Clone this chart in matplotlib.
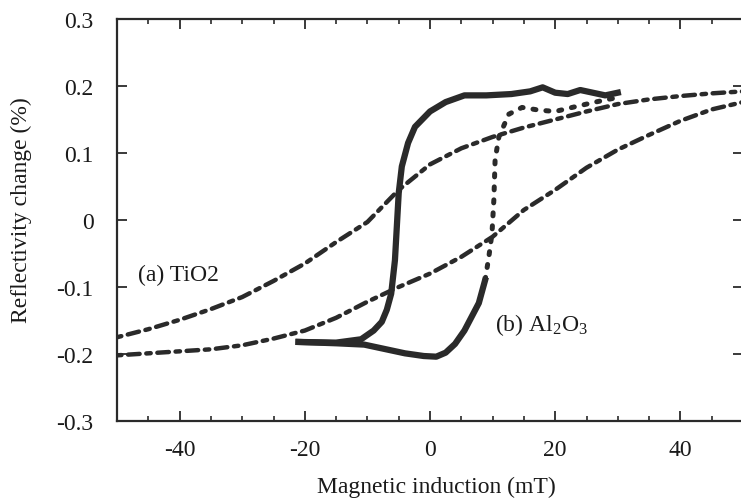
import matplotlib
matplotlib.use("Agg")
import matplotlib.pyplot as plt
from matplotlib.ticker import MultipleLocator

plt.rcParams["font.family"] = ["Liberation Serif", "DejaVu Serif"]
plt.rcParams["font.size"] = 17
plt.rcParams["axes.unicode_minus"] = False
plt.rcParams["mathtext.fontset"] = "custom"
plt.rcParams["mathtext.rm"] = "Liberation Serif"
plt.rcParams["mathtext.default"] = "rm"

INK = "#2a2a2a"

# (a) TiO2 loop: upper branch (field sweeping down) and lower branch (sweeping up)
tio2_field = [-50, -45, -40, -35, -30, -25, -20, -15, -10, -5, 0,
              5, 10, 15, 20, 25, 30, 35, 40, 45, 50]
tio2_down = [-0.175, -0.163, -0.149, -0.133, -0.115, -0.091, -0.065, -0.033, -0.003, 0.045, 0.083,
             0.107, 0.124, 0.138, 0.150, 0.162, 0.173, 0.180, 0.185, 0.189, 0.192]
tio2_up = [-0.202, -0.199, -0.196, -0.193, -0.187, -0.177, -0.165, -0.146, -0.122, -0.100, -0.080,
           -0.055, -0.025, 0.015, 0.045, 0.078, 0.105, 0.127, 0.148, 0.165, 0.176]

# (b) Al2O3 loop
al_down_field = [30, 28, 26, 24, 22, 20, 18, 16, 13, 9, 5.5, 2.5, 0, -2.4, -3.5, -4.5,
                 -5.0, -5.3, -5.6, -6.2, -6.9, -7.7, -9, -11, -15, -21]
al_down = [0.190, 0.186, 0.190, 0.194, 0.188, 0.190, 0.198, 0.192, 0.188, 0.186, 0.186, 0.176,
           0.162, 0.139, 0.115, 0.080, 0.040, -0.010, -0.060, -0.110, -0.134, -0.152, -0.165,
           -0.178, -0.183, -0.182]

al_up_field = [-21, -15, -10.5, -7, -4, -1, 1, 2.5, 4, 5.5, 7.8, 8.8]
al_up = [-0.182, -0.184, -0.186, -0.193, -0.199, -0.203, -0.204, -0.198, -0.185, -0.165, -0.124, -0.090]

al_jump_field = [8.8, 9.4, 9.9, 10.2, 10.4, 11.0, 12.6, 14.7, 17.4, 20, 22.7, 26.4, 30]
al_jump = [-0.090, -0.055, -0.020, 0.030, 0.090, 0.124, 0.158, 0.168, 0.164, 0.162, 0.168, 0.176, 0.183]

x_ticks = [-40, -20, 0, 20, 40]
y_ticks = [-0.3, -0.2, -0.1, 0, 0.1, 0.2, 0.3]
y_ticklabels = ["-0.3", "-0.2", "-0.1", "0", "0.1", "0.2", "0.3"]

fig = plt.figure(figsize=(7.41, 5.02), dpi=100)
ax = fig.add_axes([117 / 741, 80 / 502, 626 / 741, 402 / 502])

dot_style = dict(color=INK, linewidth=3.2, linestyle=(0, (1.0, 1.5, 2.6, 1.5)),
                 dash_capstyle="round")
ax.plot(tio2_field, tio2_down, **dot_style)
ax.plot(tio2_field, tio2_up, **dot_style)

ax.plot(al_down_field, al_down, color=INK, linewidth=4.5, solid_joinstyle="round")
ax.plot(al_up_field, al_up, color=INK, linewidth=4.5, solid_joinstyle="round")
ax.plot(al_jump_field, al_jump, color=INK, linewidth=3.6,
        linestyle=(0, (0.6, 2.0)), dash_capstyle="round")

ax.text(-46.6, -0.082, "(a) TiO2", ha="left", va="center", color="#1a1a1a")
ax.text(10.4, -0.155, "(b) Al$_2$O$_3$", ha="left", va="center", color="#1a1a1a")

ax.set_xlim(-50, 50)
ax.set_ylim(-0.3, 0.3)
ax.set_xticks(x_ticks)
ax.set_xticklabels([str(v) for v in x_ticks])
ax.xaxis.set_minor_locator(MultipleLocator(5))
ax.set_yticks(y_ticks)
ax.set_yticklabels(y_ticklabels)

for side in ax.spines.values():
    side.set_linewidth(1.6)
    side.set_color(INK)

ax.tick_params(which="both", direction="in", top=True, right=True, color=INK, labelcolor="#1a1a1a")
ax.tick_params(axis="x", which="major", length=7, width=1.3, pad=13)
ax.tick_params(axis="x", which="minor", length=3.5, width=1.2)
ax.tick_params(axis="y", which="major", length=7, width=1.3, pad=17)

ax.set_xlabel("Magnetic induction (mT)", color="#1a1a1a")
ax.set_ylabel("Reflectivity change (%)", color="#1a1a1a", va="center")
ax.xaxis.set_label_coords(0.51, -0.137)
ax.yaxis.set_label_coords(-0.153, 0.527)

fig.savefig("out.png", dpi=100)
